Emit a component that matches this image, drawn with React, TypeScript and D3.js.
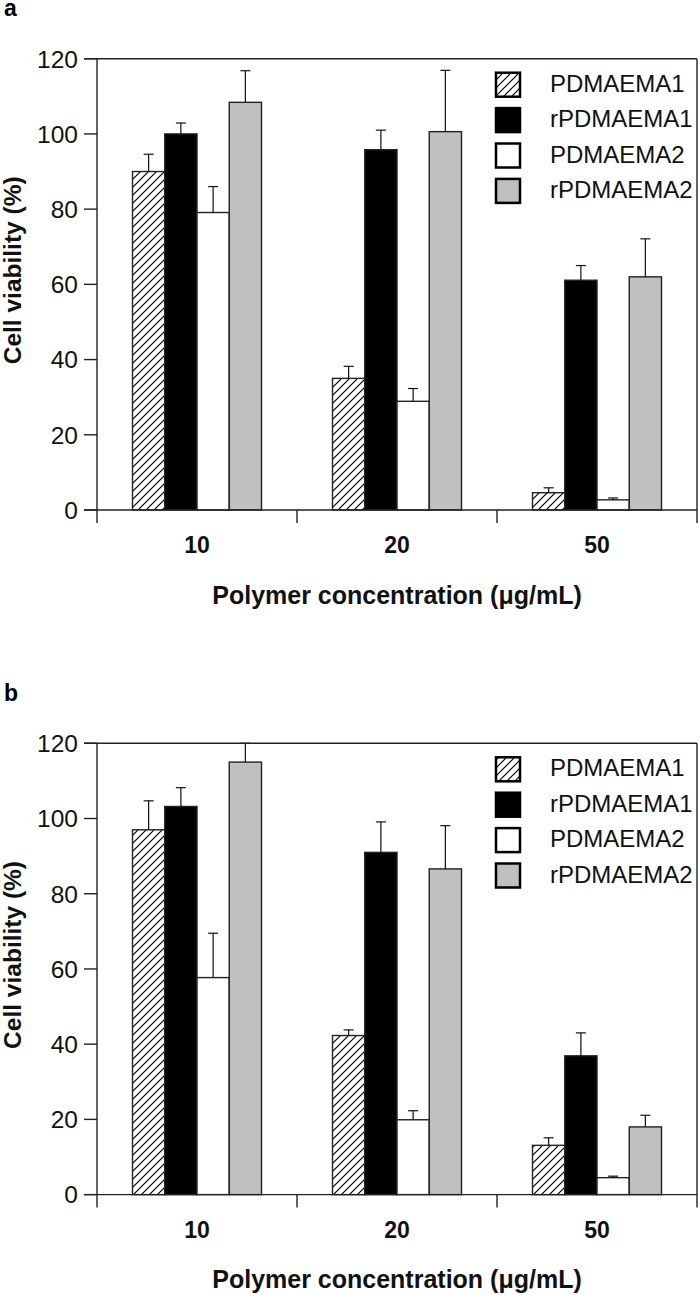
import React from "react";
import * as d3 from "d3";

const categories = ["10", "20", "50"];
const seriesNames = ["PDMAEMA1", "rPDMAEMA1", "PDMAEMA2", "rPDMAEMA2"];
const yTicks = [0, 20, 40, 60, 80, 100, 120];

// Panel a: values per series across categories (10, 20, 50)
const aPDMAEMA1 = [90, 35, 4.6];
const aRPDMAEMA1 = [100, 95.8, 61.1];
const aPDMAEMA2 = [79.1, 28.9, 2.7];
const aRPDMAEMA2 = [108.4, 100.6, 62];
const aErrPDMAEMA1 = [4.6, 3.2, 1.3];
const aErrRPDMAEMA1 = [2.9, 5.2, 3.9];
const aErrPDMAEMA2 = [6.9, 3.4, 0.5];
const aErrRPDMAEMA2 = [8.4, 16.3, 10.1];

// Panel b
const bPDMAEMA1 = [97, 42.3, 13.1];
const bRPDMAEMA1 = [103.2, 91, 36.9];
const bPDMAEMA2 = [57.7, 19.9, 4.5];
const bRPDMAEMA2 = [115, 86.6, 18];
const bErrPDMAEMA1 = [7.7, 1.5, 2];
const bErrRPDMAEMA1 = [5, 8.1, 6.1];
const bErrPDMAEMA2 = [11.8, 2.4, 0.4];
const bErrRPDMAEMA2 = [5, 11.5, 3.1];

const FONT = "'Liberation Sans', Arial, Helvetica, sans-serif";
const AXIS = "#222";
const fills = ["url(#hatch)", "#000000", "#ffffff", "#c0c0c0"];

type PanelProps = {
  label: string;
  top: number;
  values: number[][];
  errors: number[][];
};

const plotLeft = 97;
const plotRight = 697;
const plotHeight = 451.3;

function Panel({ label, top, values, errors }: PanelProps) {
  const y = d3.scaleLinear().domain([0, 120]).range([top + plotHeight, top]);
  const x0 = d3.scaleBand<string>().domain(categories).range([plotLeft, plotRight]).padding(0);
  const x1 = d3
    .scaleBand<string>()
    .domain(seriesNames)
    .range([35.5, 164.5])
    .padding(0);
  const y0 = y(0);
  const bw = x1.bandwidth();
  const capHalf = 5;

  const bars: React.ReactNode[] = [];
  const errs: React.ReactNode[] = [];
  seriesNames.forEach((s, si) => {
    categories.forEach((c, ci) => {
      const v = values[si][ci];
      const e = errors[si][ci];
      const bx = (x0(c) as number) + (x1(s) as number);
      const yt = y(v);
      bars.push(
        <rect
          key={`bar-${s}-${c}`}
          x={bx}
          y={yt}
          width={bw}
          height={y0 - yt}
          fill={fills[si]}
          stroke={AXIS}
          strokeWidth={1.4}
        />
      );
      const cx = bx + bw / 2;
      const ye = y(Math.min(v + e, 120));
      errs.push(
        <g key={`err-${s}-${c}`} stroke="#111" strokeWidth={1.2}>
          <line x1={cx} x2={cx} y1={yt} y2={ye} />
          <line x1={cx - capHalf} x2={cx + capHalf} y1={ye} y2={ye} />
        </g>
      );
    });
  });

  const legendX = 496;
  const legendTop = top + 14;
  const legendStep = 35.4;
  const sw = 24;

  return (
    <g>
      <text x={4} y={top - 42.7} fontFamily={FONT} fontWeight="bold" fontSize={23} fill="#000">
        {label}
      </text>
      {bars}
      {errs}
      {/* frame / axes */}
      <g stroke={AXIS} strokeWidth={1.4} fill="none">
        <line x1={84} x2={plotRight} y1={y(120)} y2={y(120)} />
        <line x1={plotLeft} x2={plotLeft} y1={y(120)} y2={y0 + 13} />
        <line x1={plotRight} x2={plotRight} y1={y(120)} y2={y0 + 13} />
        <line x1={84} x2={plotRight} y1={y0} y2={y0} />
        {yTicks.map((t) => (
          <line key={`yt-${t}`} x1={84} x2={plotLeft} y1={y(t)} y2={y(t)} />
        ))}
        {categories.slice(0, -1).map((c) => {
          const xx = (x0(c) as number) + x0.bandwidth();
          return <line key={`xt-${c}`} x1={xx} x2={xx} y1={y0} y2={y0 + 13} />;
        })}
      </g>
      {yTicks.map((t) => (
        <text
          key={`yl-${t}`}
          x={78}
          y={y(t)}
          dy="0.36em"
          textAnchor="end"
          fontFamily={FONT}
          fontSize={24.5}
          fill="#111"
        >
          {t}
        </text>
      ))}
      {categories.map((c) => (
        <text
          key={`xl-${c}`}
          x={(x0(c) as number) + x0.bandwidth() / 2}
          y={y0 + 43}
          textAnchor="middle"
          fontFamily={FONT}
          fontWeight="bold"
          fontSize={23}
          fill="#111"
        >
          {c}
        </text>
      ))}
      <text
        x={(plotLeft + plotRight) / 2}
        y={y0 + 93.5}
        textAnchor="middle"
        fontFamily={FONT}
        fontWeight="bold"
        fontSize={25}
        fill="#111"
      >
        Polymer concentration (μg/mL)
      </text>
      <text
        transform={`translate(21,${top + plotHeight / 2 - 14}) rotate(-90)`}
        textAnchor="middle"
        fontFamily={FONT}
        fontWeight="bold"
        fontSize={24.5}
        fill="#111"
      >
        Cell viability (%)
      </text>
      {seriesNames.map((s, i) => (
        <g key={`lg-${s}`}>
          <rect
            x={legendX}
            y={legendTop + i * legendStep}
            width={sw}
            height={sw}
            fill={fills[i]}
            stroke="#000"
            strokeWidth={2.5}
          />
          <text
            x={550}
            y={legendTop + i * legendStep + sw / 2 - 1.5}
            dy="0.36em"
            fontFamily={FONT}
            fontSize={24}
            fill="#111"
          >
            {s}
          </text>
        </g>
      ))}
    </g>
  );
}

export default function App() {
  const aValues = [aPDMAEMA1, aRPDMAEMA1, aPDMAEMA2, aRPDMAEMA2];
  const aErrors = [aErrPDMAEMA1, aErrRPDMAEMA1, aErrPDMAEMA2, aErrRPDMAEMA2];
  const bValues = [bPDMAEMA1, bRPDMAEMA1, bPDMAEMA2, bRPDMAEMA2];
  const bErrors = [bErrPDMAEMA1, bErrRPDMAEMA1, bErrPDMAEMA2, bErrRPDMAEMA2];
  return (
    <div style={{ position: "absolute", left: 0, top: 0 }}>
      <svg width={700} height={1295} style={{ display: "block", background: "#fff" }}>
        <defs>
          <pattern id="hatch" patternUnits="userSpaceOnUse" width={8} height={8}>
            <rect width={8} height={8} fill="#fff" />
            <path d="M-2,2 L2,-2 M0,8 L8,0 M6,10 L10,6" stroke="#000" strokeWidth={1.2} />
          </pattern>
        </defs>
        <rect width={700} height={1295} fill="#fff" />
        <Panel label="a" top={58.7} values={aValues} errors={aErrors} />
        <Panel label="b" top={743.3} values={bValues} errors={bErrors} />
      </svg>
    </div>
  );
}
